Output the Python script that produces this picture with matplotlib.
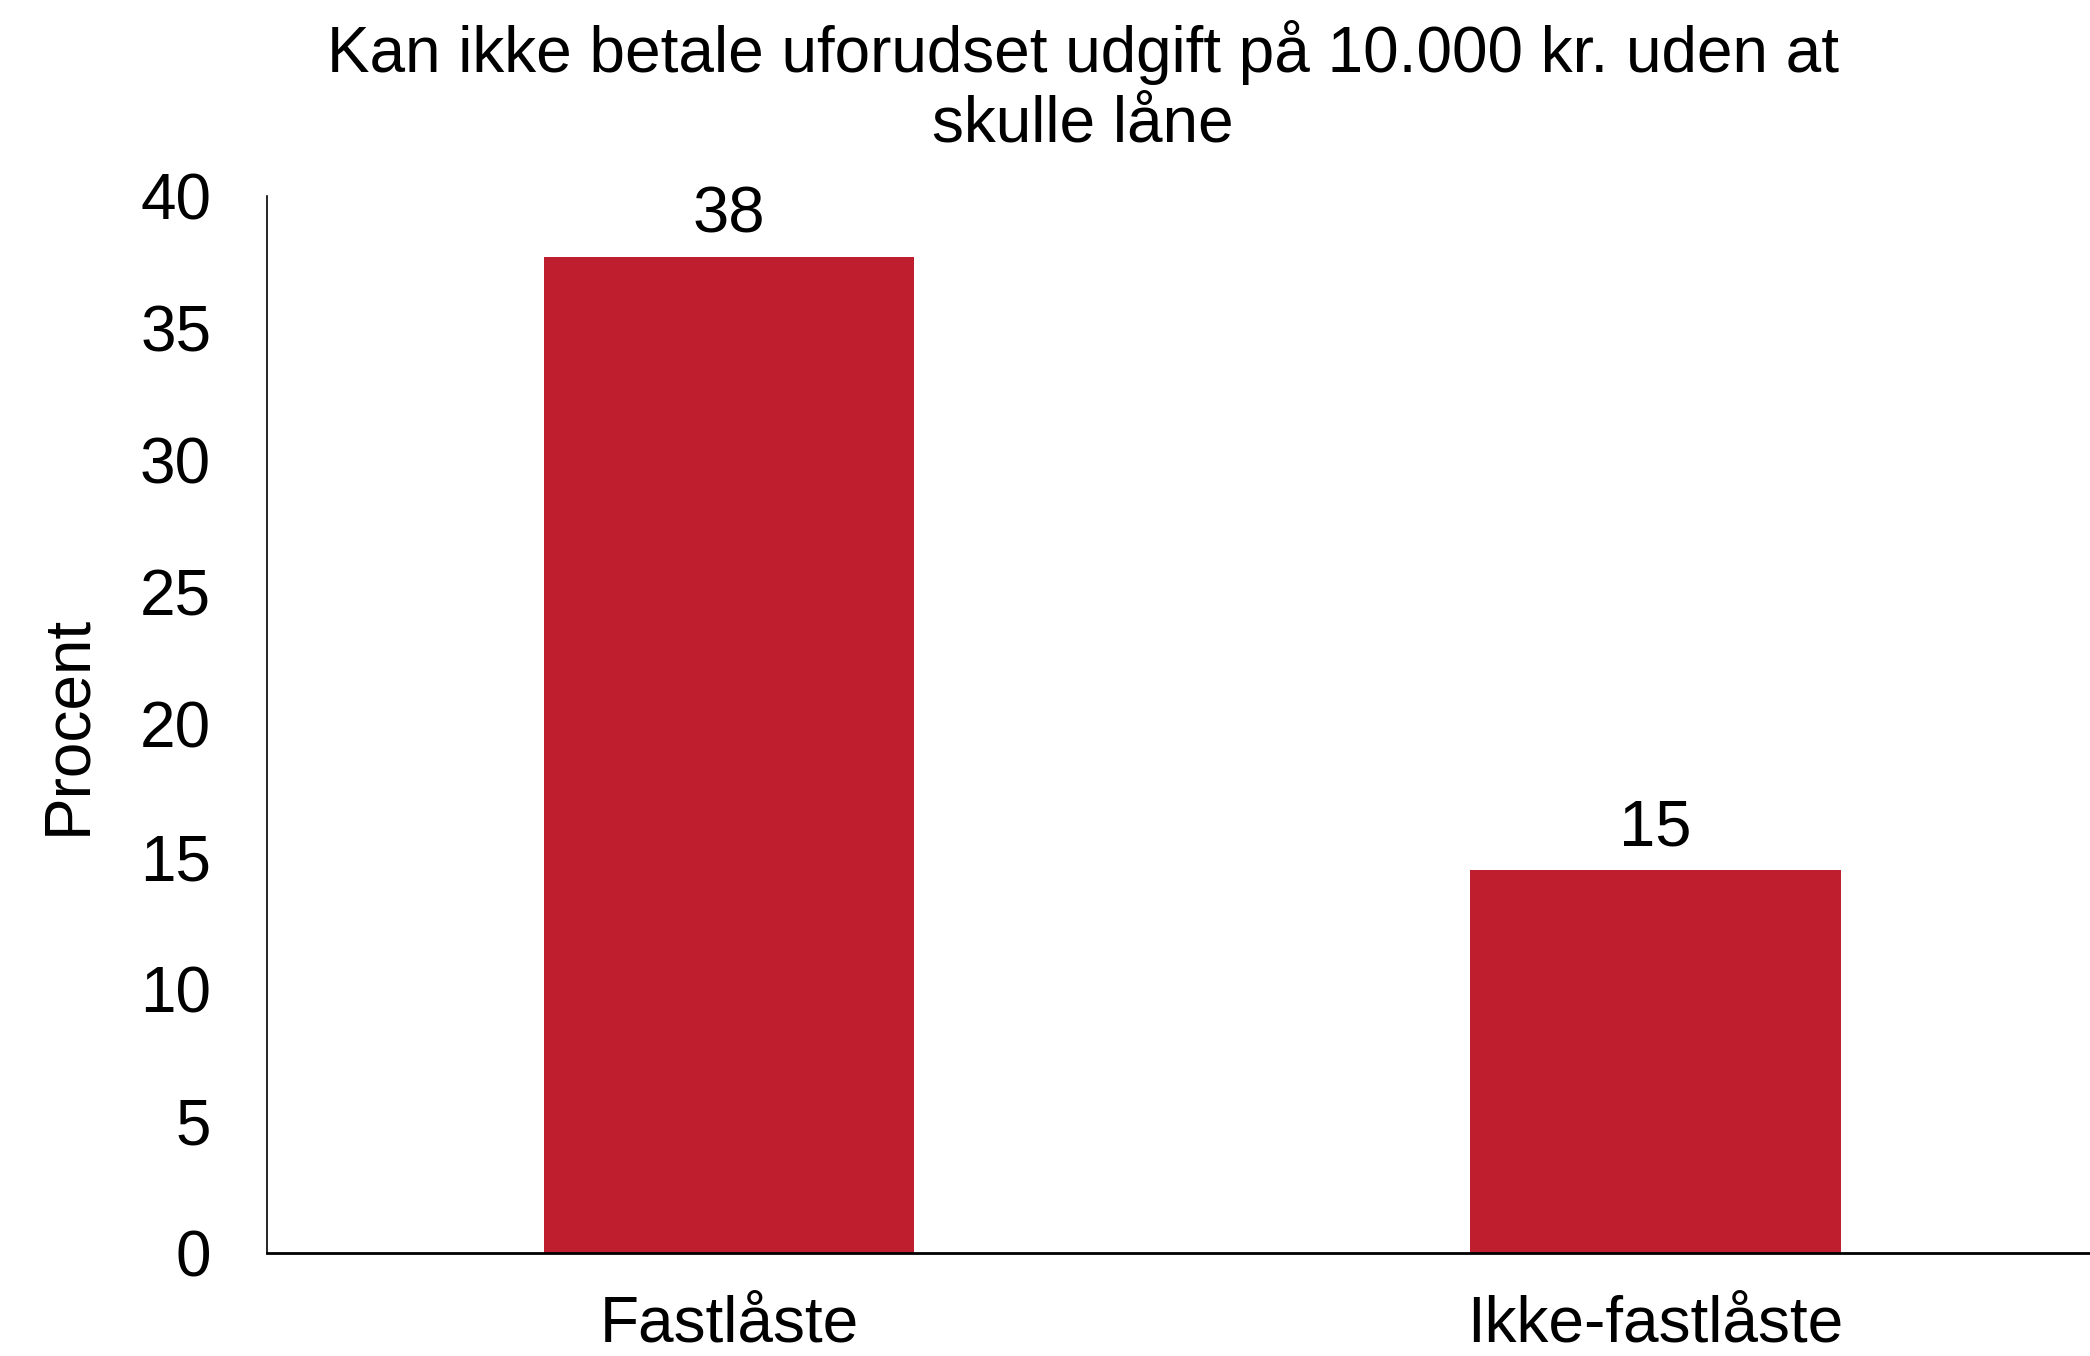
import matplotlib.pyplot as plt

categories = ["Fastlåste", "Ikke-fastlåste"]
values = [37.7, 14.5]
value_labels = ["38", "15"]

title = "Kan ikke betale uforudset udgift på 10.000 kr. uden at\nskulle låne"
ylabel = "Procent"
bar_color = "#BE1E2D"


def main():
    plt.rcParams['font.family'] = ['Liberation Sans', 'DejaVu Sans']

    fig = plt.figure(figsize=(20.9, 13.56), dpi=100)
    ax = fig.add_axes([0.1276, 0.076, 0.8724, 0.7795])

    x = list(range(len(categories)))
    bars = ax.bar(x, values, width=0.4, color=bar_color)
    ax.bar_label(bars, labels=value_labels, padding=8, fontsize=47)

    ax.set_xlim(-0.499, 1.469)
    ax.set_ylim(0, 40)
    ax.set_yticks(range(0, 41, 5))
    ax.set_xticks(x)
    ax.set_xticklabels(categories)
    ax.tick_params(axis='both', length=0, labelsize=46)
    ax.tick_params(axis='y', pad=40)
    ax.tick_params(axis='x', pad=30)

    for side in ("top", "right"):
        ax.spines[side].set_visible(False)
    ax.spines["left"].set_linewidth(1.2)
    ax.spines["bottom"].set_linewidth(2)

    ax.set_ylabel(ylabel, fontsize=46, labelpad=30)
    fig.suptitle(title, fontsize=46, x=0.518, y=0.985, va='top',
                 linespacing=1.2)

    fig.savefig("out.png", dpi=100)


if __name__ == '__main__':
    main()
